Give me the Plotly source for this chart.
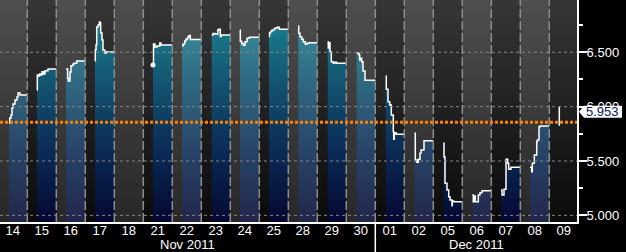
import plotly.graph_objects as go

# ---------------- data ----------------
DAYS = ["14", "15", "16", "17", "18", "21", "22", "23", "24", "25", "28", "29", "30",
        "01", "02", "05", "06", "07", "08", "09"]
MONTH_NAMES = ["Nov 2011", "Dec 2011"]
DAY_MONTH = [0] * 13 + [1] * 7

# intraday tick times (fraction of the day slot) and prices for each day
TIMES = [
    [0.369, 0.393, 0.438, 0.472, 0.507, 0.576, 0.645, 0.679, 0.748],
    [0.334, 0.345, 0.369, 0.421, 0.472, 0.507, 0.559, 0.610, 0.714],
    [0.334, 0.393, 0.414, 0.472, 0.507, 0.566, 0.610, 0.703],
    [0.334, 0.345, 0.369, 0.393, 0.438, 0.483, 0.507, 0.531, 0.576, 0.610, 0.669, 0.714],
    [],
    [0.334, 0.352, 0.403, 0.472, 0.566, 0.610],
    [0.334, 0.369, 0.428, 0.472, 0.531, 0.576, 0.621],
    [0.359, 0.403, 0.472, 0.566, 0.610, 0.655, 0.690],
    [0.334, 0.345, 0.393, 0.448, 0.507, 0.576, 0.655],
    [0.334, 0.352, 0.386, 0.438, 0.524, 0.610, 0.690],
    [0.345, 0.359, 0.403, 0.462, 0.517, 0.586, 0.645, 0.714],
    [0.359, 0.379, 0.403, 0.438, 0.483, 0.552, 0.610, 0.669],
    [0.359, 0.438, 0.462, 0.497, 0.531, 0.576, 0.645],
    [0.359, 0.379, 0.438, 0.497, 0.552, 0.621, 0.634, 0.655, 0.714],
    [0.345, 0.379, 0.428, 0.483, 0.541, 0.576, 0.679],
    [0.345, 0.369, 0.403, 0.472, 0.531, 0.576, 0.645, 0.655, 0.703],
    [0.345, 0.379, 0.414, 0.448, 0.552, 0.610, 0.679],
    [0.334, 0.369, 0.438, 0.507, 0.566, 0.600, 0.679],
    [0.334, 0.393, 0.414, 0.483, 0.566, 0.586, 0.645, 0.679],
    [0.345, 0.345, 0.345],
]
PRICES = [
    [5.849, 5.895, 5.923, 5.988, 6.024, 6.061, 6.089, 6.126, 6.107],
    [6.153, 6.290, 6.282, 6.300, 6.290, 6.320, 6.300, 6.330, 6.346],
    [6.346, 6.261, 6.236, 6.319, 6.377, 6.390, 6.399, 6.420],
    [6.420, 6.520, 6.567, 6.733, 6.751, 6.779, 6.770, 6.678, 6.613, 6.520, 6.494, 6.503],
    [],
    [6.383, 6.576, 6.549, 6.558, 6.585, 6.567],
    [6.558, 6.576, 6.604, 6.622, 6.641, 6.655, 6.618],
    [6.659, 6.673, 6.668, 6.705, 6.712, 6.645, 6.659],
    [6.705, 6.601, 6.581, 6.564, 6.598, 6.629, 6.638],
    [6.645, 6.678, 6.691, 6.705, 6.721, 6.730, 6.712],
    [6.742, 6.675, 6.644, 6.620, 6.597, 6.574, 6.583, 6.588],
    [6.598, 6.540, 6.588, 6.506, 6.414, 6.399, 6.408, 6.399],
    [6.491, 6.475, 6.429, 6.445, 6.414, 6.328, 6.242],
    [6.282, 6.160, 6.045, 6.015, 5.923, 5.770, 5.700, 5.760, 5.746],
    [5.755, 5.509, 5.488, 5.516, 5.571, 5.601, 5.687],
    [5.663, 5.537, 5.295, 5.233, 5.172, 5.141, 5.089, 5.132, 5.126],
    [5.187, 5.126, 5.178, 5.126, 5.187, 5.208, 5.227],
    [5.233, 5.187, 5.240, 5.516, 5.479, 5.424, 5.442],
    [5.442, 5.402, 5.479, 5.555, 5.677, 5.693, 5.816, 5.822],
    [6.000, 5.825, 5.953],
]
ISOLATED_TICKS = [(5, 0)]  # (day index, tick index) drawn as a lone dot
LAST_PRICE = 5.953
REF_LEVEL = 5.857
Y_TICKS = [5.0, 5.5, 6.0, 6.5]
Y_TICK_TEXT = ["5.000", "5.500", "6.000", "6.500"]

# ---------------- style ----------------
Y_MIN, Y_MAX = 4.939, 6.981
X_MIN, X_MAX = 0.0586, 19.955
FONT = "Liberation Sans"
FILL_SCALE = [[0.0, "rgb(4,8,50)"], [0.3, "rgb(10,40,82)"], [0.6, "rgb(18,80,110)"],
              [0.85, "rgb(25,118,136)"], [1.0, "rgb(32,138,152)"]]

fig = go.Figure()

# panel background (vertical gradient)
fig.add_trace(go.Scatter(
    x=[0, len(DAYS)], y=[Y_MAX, Y_MAX], mode="lines", line=dict(width=0),
    fill="tozeroy",
    fillgradient=dict(type="vertical", start=Y_MIN, stop=Y_MAX,
                      colorscale=[[0, "rgb(10,10,10)"], [1, "rgb(54,54,54)"]]),
    hoverinfo="skip", showlegend=False))

n = len(DAYS)
for k in range(n):
    t, p = TIMES[k], PRICES[k]
    if not p:
        continue
    xs = [k + v for v in t]
    ys = list(p)
    if k < n - 1:
        xs.append(k + 1)
        ys.append(p[-1])
    fig.add_trace(go.Scatter(
        x=xs, y=ys, mode="lines", line=dict(color="white", width=1.5, shape="hv"),
        fill="tozeroy",
        fillgradient=dict(type="vertical", start=Y_MIN, stop=Y_MAX, colorscale=FILL_SCALE),
        hoverinfo="skip", showlegend=False))

for (k, i) in ISOLATED_TICKS:
    fig.add_trace(go.Scatter(x=[k + TIMES[k][i]], y=[PRICES[k][i]], mode="markers",
                             marker=dict(color="white", size=5), showlegend=False,
                             hoverinfo="skip"))

shapes = []
# alternating lighter day bands
for k in range(0, n, 2):
    shapes.append(dict(type="rect", xref="x", yref="paper", x0=k, x1=k + 1, y0=0, y1=1,
                       fillcolor="rgba(255,255,255,0.12)", line=dict(width=0), layer="above"))
# horizontal grid
for v in Y_TICKS:
    shapes.append(dict(type="line", xref="paper", yref="y", x0=0, x1=1, y0=v, y1=v,
                       line=dict(color="rgb(135,135,135)", width=1, dash="3px,3px"), layer="above"))
# day separators
for k in range(1, n):
    shapes.append(dict(type="line", xref="x", yref="paper", x0=k, x1=k, y0=0, y1=1,
                       line=dict(color="rgb(140,140,140)", width=1.5, dash="9px,3px"), layer="above"))
# reference level
shapes.append(dict(type="line", xref="paper", yref="y", x0=0, x1=1, y0=REF_LEVEL, y1=REF_LEVEL,
                   line=dict(color="rgb(255,128,0)", width=3, dash="3px,2px"), layer="above"))
# month separator below the axis
month_break = DAY_MONTH.index(1)
shapes.append(dict(type="line", xref="x", yref="paper", x0=month_break, x1=month_break,
                   y0=0, y1=-0.14, line=dict(color="white", width=1.5), layer="above"))
# last price tag
h = 0.056
shapes.append(dict(type="path", xref="paper", yref="y",
                   path=f"M 1.0035,{LAST_PRICE} L 1.0121,{LAST_PRICE + h} L 1.078,{LAST_PRICE + h} "
                        f"L 1.078,{LAST_PRICE - h} L 1.0121,{LAST_PRICE - h} Z",
                   fillcolor="white", line=dict(width=0), layer="above"))

annotations = []
for m, name in enumerate(MONTH_NAMES):
    idx = [i for i, d in enumerate(DAY_MONTH) if d == m]
    a, b = idx[0], idx[-1] + 1
    annotations.append(dict(x=(max(a, X_MIN) + min(b, X_MAX)) / 2, xref="x", y=-0.102, yref="paper",
                            text=name, showarrow=False, xanchor="center", yanchor="middle",
                            font=dict(family=FONT, size=13, color="white")))
annotations.append(dict(x=1.045, xref="paper", y=LAST_PRICE, yref="y", text=f"{LAST_PRICE:.3f}",
                        showarrow=False, xanchor="center", yanchor="middle",
                        font=dict(family=FONT, size=13, color="rgb(10,20,80)")))

fig.update_layout(
    width=626, height=252, margin=dict(l=0, r=49, t=0, b=30),
    paper_bgcolor="black", plot_bgcolor="black",
    shapes=shapes, annotations=annotations, showlegend=False,
    xaxis=dict(range=[X_MIN, X_MAX], tickvals=[k + 0.5 for k in range(n)], ticktext=DAYS,
               showgrid=False, zeroline=False, showline=True, linecolor="white", linewidth=2,
               ticks="", ticklabelstandoff=-5, tickfont=dict(family=FONT, size=13, color="white")),
    yaxis=dict(range=[Y_MIN, Y_MAX], side="right", tickvals=Y_TICKS, ticktext=Y_TICK_TEXT,
               showgrid=False, zeroline=False, showline=True, linecolor="white", linewidth=2,
               ticks="outside", ticklen=8, tickwidth=2, tickcolor="white", ticklabelstandoff=-3,
               minor=dict(dtick=0.25, ticks="outside", ticklen=4, tickwidth=1.5, tickcolor="white"),
               tickfont=dict(family=FONT, size=13, color="white")),
)

fig.write_html("out.html")
